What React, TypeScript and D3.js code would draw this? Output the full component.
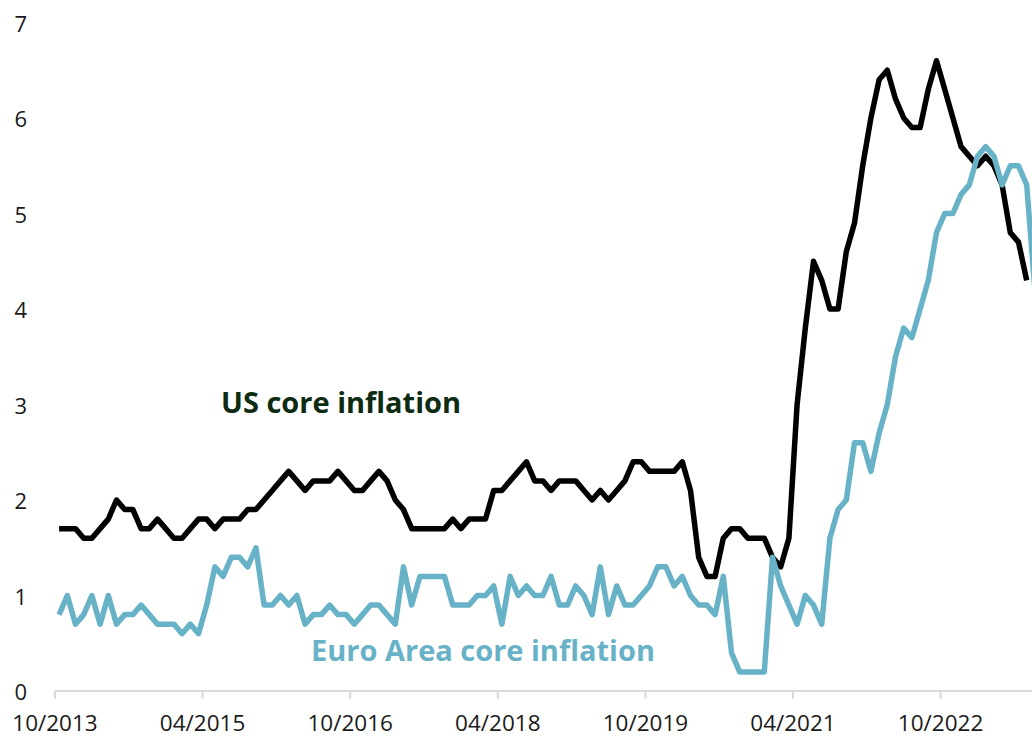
import React from "react";
import * as d3 from "d3";

// Monthly observations, first = Oct 2013
const START = new Date(2013, 9, 1);
const usCore: number[] = [
  1.7, 1.7, 1.7, 1.6, 1.6, 1.7, 1.8, 2.0, 1.9, 1.9, 1.7, 1.7,
  1.8, 1.7, 1.6, 1.6, 1.7, 1.8, 1.8, 1.7, 1.8, 1.8, 1.8, 1.9,
  1.9, 2.0, 2.1, 2.2, 2.3, 2.2, 2.1, 2.2, 2.2, 2.2, 2.3, 2.2,
  2.1, 2.1, 2.2, 2.3, 2.2, 2.0, 1.9, 1.7, 1.7, 1.7, 1.7, 1.7,
  1.8, 1.7, 1.8, 1.8, 1.8, 2.1, 2.1, 2.2, 2.3, 2.4, 2.2, 2.2,
  2.1, 2.2, 2.2, 2.2, 2.1, 2.0, 2.1, 2.0, 2.1, 2.2, 2.4, 2.4,
  2.3, 2.3, 2.3, 2.3, 2.4, 2.1, 1.4, 1.2, 1.2, 1.6, 1.7, 1.7,
  1.6, 1.6, 1.6, 1.4, 1.3, 1.6, 3.0, 3.8, 4.5, 4.3, 4.0, 4.0,
  4.6, 4.9, 5.5, 6.0, 6.4, 6.5, 6.2, 6.0, 5.9, 5.9, 6.3, 6.6,
  6.3, 6.0, 5.7, 5.6, 5.5, 5.6, 5.5, 5.3, 4.8, 4.7, 4.3,
];
const euroCore: number[] = [
  0.8, 1.0, 0.7, 0.8, 1.0, 0.7, 1.0, 0.7, 0.8, 0.8, 0.9, 0.8,
  0.7, 0.7, 0.7, 0.6, 0.7, 0.6, 0.9, 1.3, 1.2, 1.4, 1.4, 1.3,
  1.5, 0.9, 0.9, 1.0, 0.9, 1.0, 0.7, 0.8, 0.8, 0.9, 0.8, 0.8,
  0.7, 0.8, 0.9, 0.9, 0.8, 0.7, 1.3, 0.9, 1.2, 1.2, 1.2, 1.2,
  0.9, 0.9, 0.9, 1.0, 1.0, 1.1, 0.7, 1.2, 1.0, 1.1, 1.0, 1.0,
  1.2, 0.9, 0.9, 1.1, 1.0, 0.8, 1.3, 0.8, 1.1, 0.9, 0.9, 1.0,
  1.1, 1.3, 1.3, 1.1, 1.2, 1.0, 0.9, 0.9, 0.8, 1.2, 0.4, 0.2,
  0.2, 0.2, 0.2, 1.4, 1.1, 0.9, 0.7, 1.0, 0.9, 0.7, 1.6, 1.9,
  2.0, 2.6, 2.6, 2.3, 2.7, 3.0, 3.5, 3.8, 3.7, 4.0, 4.3, 4.8,
  5.0, 5.0, 5.2, 5.3, 5.6, 5.7, 5.6, 5.3, 5.5, 5.5, 5.3, 4.2,
];
const yTicks: number[] = [0, 1, 2, 3, 4, 5, 6, 7];
const xTickLabels: string[] = ["10/2013", "04/2015", "10/2016", "04/2018", "10/2019", "04/2021", "10/2022"];
const seriesLabels = { us: "US core inflation", euro: "Euro Area core inflation" };

const W = 1032;
const H = 736;
const FONT = "'Open Sans', 'Noto Sans', sans-serif";

export default function App() {
  const nMonths = 120;
  const months = d3.timeMonth.range(START, d3.timeMonth.offset(START, nMonths));
  const fmt = d3.timeFormat("%m/%Y");
  const keys = months.map((m) => fmt(m));

  const x = d3.scaleBand<string>().domain(keys).range([55, 55 + nMonths * 8.2]).paddingInner(0).paddingOuter(0);
  const bw = x.bandwidth();
  const y = d3.scaleLinear().domain([0, 7]).range([691, 22.5]);

  const line = d3
    .line<number>()
    .x((_, i) => (x(keys[i]) as number) + bw / 2)
    .y((d) => y(d));

  const axisY = y(0);

  return (
    <svg
      width={W}
      height={H}
      style={{ position: "absolute", left: 0, top: 0, display: "block", background: "#fff" }}
      fontFamily={FONT}
    >
      {yTicks.map((t) => (
        <text key={t} x={27} y={y(t)} textAnchor="end" dominantBaseline="central" fontSize={22} fill="#1a1a1a">
          {t}
        </text>
      ))}
      <line x1={55} x2={W} y1={axisY} y2={axisY} stroke="#d9d9d9" strokeWidth={2} />
      {xTickLabels.map((lab) => {
        const px = x(lab) as number;
        return (
          <g key={lab}>
            <line x1={px} x2={px} y1={axisY} y2={axisY + 8} stroke="#d9d9d9" strokeWidth={2} />
            <text x={px} y={722} textAnchor="middle" dominantBaseline="central" fontSize={22.5} fill="#1a1a1a">
              {lab}
            </text>
          </g>
        );
      })}
      <path d={line(usCore) || ""} fill="none" stroke="#000" strokeWidth={5.5} strokeLinejoin="round" />
      <path d={line(euroCore) || ""} fill="none" stroke="#68b2c8" strokeWidth={5.5} strokeLinejoin="round" />
      <text x={221} y={413} fontSize={29} fontWeight={700} fill="#0c2b10">
        {seriesLabels.us}
      </text>
      <text x={311} y={661} fontSize={29} fontWeight={700} fill="#68b2c8">
        {seriesLabels.euro}
      </text>
    </svg>
  );
}
